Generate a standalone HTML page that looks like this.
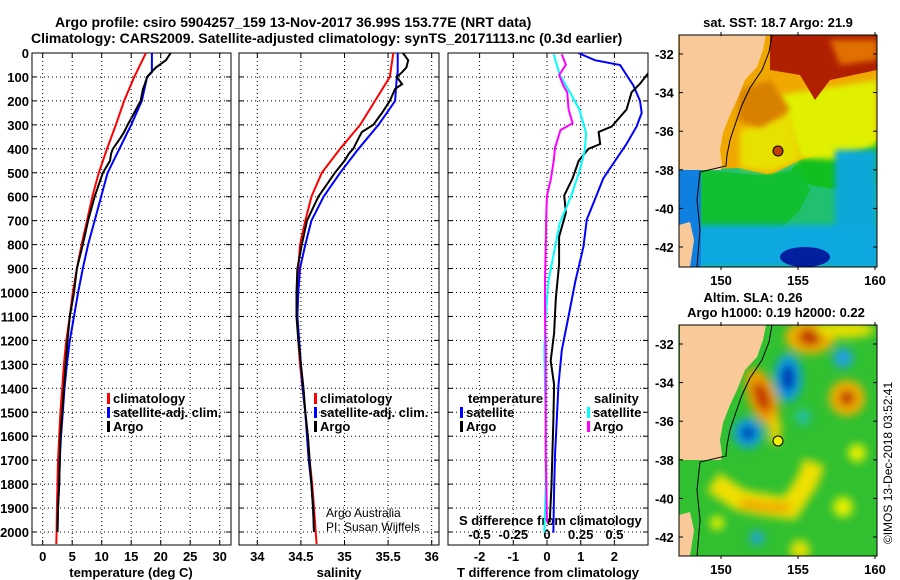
<!DOCTYPE html>
<html><head><meta charset="utf-8">
<style>
html,body{margin:0;padding:0;background:#fff;}
svg{display:block;font-family:"Liberation Sans",sans-serif;font-weight:bold;}
text{font-size:13px;fill:#000;}
</style></head>
<body>
<svg id="c" width="900" height="580" viewBox="0 0 900 580">
<defs>
<filter id="bl" x="-50%" y="-50%" width="200%" height="200%"><feGaussianBlur stdDeviation="4.5"/></filter>
<filter id="bl2" x="-50%" y="-50%" width="200%" height="200%"><feGaussianBlur stdDeviation="3"/></filter>
<clipPath id="m1"><rect x="679" y="35" width="198" height="232"/></clipPath>
<clipPath id="m2"><rect x="679" y="325" width="198" height="231"/></clipPath>
<clipPath id="p1"><rect x="32" y="53" width="199" height="492"/></clipPath>
<clipPath id="p2"><rect x="239" y="53" width="200" height="492"/></clipPath>
<clipPath id="p3"><rect x="448" y="53" width="200" height="492"/></clipPath>
</defs>
<text x="55" y="27" style="font-size:14px">Argo profile: csiro 5904257_159 13-Nov-2017 36.99S 153.77E (NRT data)</text>
<text x="31" y="43" style="font-size:14px">Climatology: CARS2009. Satellite-adjusted climatology: synTS_20171113.nc (0.3d earlier)</text>

<!-- SST map -->
<g clip-path="url(#m1)">
<rect x="679" y="35" width="198" height="232" fill="#f0a800"/>
<polygon points="680,170 740,168 770,175 800,160 877,140 877,267 679,267" fill="#20c070"/>
<polygon points="800,160 877,140 877,185 840,190 810,185 790,172" fill="#10c020"/>
<polygon points="700,170 760,175 800,170 810,190 800,210 780,230 700,240" fill="#10c030"/>
<polygon points="780,95 877,80 877,145 840,160 800,158 790,130" fill="#e0f000" filter="url(#bl2)"/>
<polygon points="740,130 790,115 800,160 770,172 740,168" fill="#e8e000" filter="url(#bl2)"/>
<polygon points="740,90 770,80 790,110 760,128 738,120" fill="#d88000" filter="url(#bl2)"/>
<polygon points="770,35 877,35 877,70 830,80 815,100 800,75 770,70" fill="#b02000"/>
<polygon points="830,40 877,40 877,60 840,65" fill="#e07000" filter="url(#bl2)"/>
<rect x="835" y="150" width="42" height="117" fill="#10a8d8" filter="url(#bl2)"/>
<rect x="679" y="225" width="198" height="42" fill="#10a8e0" filter="url(#bl2)"/>
<ellipse cx="805" cy="257" rx="25" ry="10" fill="#0020a0"/>
<rect x="679" y="170" width="22" height="97" fill="#1080e0"/>
<polygon points="766,35 763,50 757,67 745,80 737,100 730,115 723,133 720,150 722,165 721,170 680,170 680,35" fill="#f9c99a"/>
<polygon points="679,225 690,222 694,240 690,267 679,267" fill="#f9c99a"/>
<polyline points="772,35 769,52 762,70 750,88 742,105 736,122 730,140 727,155 726,166 700,172 697,200 700,230 697,267" fill="none" stroke="#000" stroke-width="1"/>
</g>
<rect x="679" y="35" width="198" height="232" fill="none" stroke="#000"/>
<circle cx="778" cy="151" r="5" fill="#c04000" stroke="#000"/>
<text x="778" y="27" text-anchor="middle">sat. SST: 18.7 Argo: 21.9</text>

<!-- SLA map -->
<g clip-path="url(#m2)">
<rect x="679" y="325" width="198" height="231" fill="#30c030"/>
<g filter="url(#bl)">
<ellipse cx="810" cy="337" rx="25" ry="17" fill="#f0b000"/>
<ellipse cx="810" cy="337" rx="12" ry="9" fill="#c03000"/>
<ellipse cx="845" cy="330" rx="30" ry="8" fill="#e8e000"/>
<ellipse cx="762" cy="397" rx="14" ry="30" fill="#f0a000" transform="rotate(-20 762 397)"/>
<ellipse cx="762" cy="397" rx="7" ry="16" fill="#c02800" transform="rotate(-20 762 397)"/>
<ellipse cx="775" cy="430" rx="6" ry="15" fill="#f0d000"/>
<ellipse cx="788" cy="378" rx="14" ry="24" fill="#10a0e0"/>
<ellipse cx="788" cy="378" rx="7" ry="14" fill="#0030b0"/>
<circle cx="748" cy="433" r="15" fill="#10a0e0"/>
<circle cx="748" cy="433" r="7" fill="#0030b0"/>
<circle cx="843" cy="358" r="10" fill="#20a0e0"/>
<circle cx="847" cy="398" r="18" fill="#f0b000"/>
<circle cx="847" cy="398" r="8" fill="#c03000"/>
<polyline points="713,482 740,500 765,505 790,508 808,480 814,462" fill="none" stroke="#f0e000" stroke-width="22"/>
<polyline points="740,503 765,507 790,508" fill="none" stroke="#f0a000" stroke-width="9"/>
<circle cx="857" cy="453" r="9" fill="#e8f000"/>
<circle cx="843" cy="507" r="10" fill="#e8f000"/>
<circle cx="717" cy="523" r="7" fill="#e8f000"/>
<circle cx="803" cy="417" r="8" fill="#20c0a0"/>
<circle cx="757" cy="538" r="7" fill="#20a0e0"/>
<circle cx="800" cy="550" r="10" fill="#e0e000"/>
</g>
<polygon points="766,325 763,340 757,357 745,370 737,390 730,405 723,423 720,440 722,455 721,460 680,460 680,325" fill="#f9c99a"/>
<polygon points="679,515 690,512 694,530 690,556 679,556" fill="#f9c99a"/>
<polyline points="772,325 769,342 762,360 750,378 742,395 736,412 730,430 727,445 726,456 700,462 697,490 700,520 697,556" fill="none" stroke="#000" stroke-width="1"/>
</g>
<rect x="679" y="325" width="198" height="231" fill="none" stroke="#000"/>
<circle cx="778" cy="441" r="5" fill="#f0f000" stroke="#000"/>
<text x="753" y="302" text-anchor="middle">Altim. SLA: 0.26</text>
<text x="776" y="317" text-anchor="middle">Argo h1000: 0.19 h2000: 0.22</text>
<text x="0" y="0" transform="translate(892,463) rotate(-90)" text-anchor="middle" style="font-weight:normal;font-size:12px">©IMOS 13-Dec-2018 03:52:41</text>

<g id="plots"></g>
</svg>
<script>
// ---------- data ----------
const depthTicks=[0,100,200,300,400,500,600,700,800,900,1000,1100,1200,1300,1400,1500,1600,1700,1800,1900,2000];
const tempTicks=[0,5,10,15,20,25,30];
const salTicks=[34,34.5,35,35.5,36];
const salTickLabels=["34","34.5","35","35.5","36"];
const tdTicks=[-2,-1,0,1,2];
const sdTicks=[-0.5,-0.25,0,0.25,0.5];
const sdTickLabels=["-0.5","-0.25","0","0.25","0.5"];
const latTicks=[-32,-34,-36,-38,-40,-42];
const lonTicks=[150,155,160];

const climDepth=[0,100,200,300,400,500,600,700,800,900,1000,1100,1200,1300,1400,1500,1600,1700,1800,1900,2000,2050];
const climTemp=[17.5,15.5,13.8,12.4,10.9,9.5,8.4,7.5,6.6,5.8,5.1,4.6,4.0,3.6,3.3,3.0,2.8,2.6,2.5,2.4,2.35,2.3];
const climSal=[35.56,35.52,35.35,35.18,34.95,34.74,34.62,34.55,34.49,34.47,34.46,34.46,34.47,34.49,34.52,34.55,34.58,34.60,34.63,34.65,34.67,34.68];
const satDepth=[0,80,100,200,300,400,500,600,700,800,900,1000,1100,1200,1300,1400,1500,1600,1700,1800,1900,2000];
const satTemp=[18.5,18.5,17.7,16.8,15.0,13.0,11.0,9.9,8.8,7.7,6.8,6.0,5.3,4.6,4.1,3.7,3.4,3.1,2.9,2.8,2.6,2.5];
const satSal=[35.61,35.61,35.60,35.58,35.39,35.16,34.95,34.76,34.62,34.55,34.49,34.47,34.46,34.48,34.50,34.52,34.55,34.57,34.59,34.62,34.64,34.65];
const argoDepth=[0,30,60,80,100,130,150,200,250,300,330,350,400,420,450,500,600,700,800,900,1000,1100,1200,1300,1400,1500,1600,1700,1800,1900,2000];
const argoTemp=[21.7,20.9,19.2,18.4,17.7,17.3,17.0,16.6,15.5,14.4,13.8,13.3,11.9,11.6,11.4,10.2,8.8,7.7,6.8,5.8,5.3,4.6,4.2,3.9,3.6,3.3,3.0,2.9,2.8,2.6,2.5];
const argoSal=[35.67,35.73,35.71,35.66,35.60,35.66,35.58,35.52,35.43,35.33,35.20,35.17,35.10,35.05,35.00,34.89,34.70,34.57,34.51,34.46,34.45,34.45,34.47,34.50,34.53,34.55,34.58,34.60,34.62,34.64,34.65];

const tdSatDepth=[0,30,50,70,92,135,200,250,307,380,450,523,595,695,810,954,1098,1241,1385,1529,1672,1816,2003];
const tdSat=[0.93,1.42,2.17,2.26,2.36,2.56,2.76,2.81,2.66,2.36,2.02,1.67,1.47,1.18,1.08,0.84,0.64,0.44,0.34,0.29,0.24,0.21,0.19];
const tdArgoDepth=[60,85,128,164,236,307,330,380,400,450,523,595,667,767,882,1026,1170,1285,1385,1529,1672,1816,1960];
const tdArgo=[3.1,3.0,2.76,2.51,2.36,1.92,1.53,1.58,1.23,0.94,0.76,0.51,0.56,0.36,0.36,0.26,0.21,0.11,0.21,0.19,0.16,0.13,0.08];
const sdSatDepth=[6,92,164,236,336,408,494,595,710,810,954,1098,1241,1529,1816,2003];
const sdSat=[0.05,0.095,0.17,0.24,0.29,0.28,0.24,0.18,0.095,0.06,0.01,-0.01,-0.02,-0.01,-0.01,-0.02];
const sdArgoDepth=[6,49,92,135,164,236,293,322,394,450,523,595,667,810,954,1098,1241,1385,1672,1960];
const sdArgo=[0.11,0.14,0.09,0.12,0.15,0.16,0.19,0.10,0.06,0.05,0.03,0.0,-0.005,-0.01,-0.015,-0.015,-0.01,-0.01,-0.01,0.0];

// ---------- axes ----------
const TOP=53, BOT=545;
const Y=d=>TOP+d*0.2395;
const X1=t=>42.7+t*5.9;
const X2=s=>257.3+(s-34)*87.2;
const X3=t=>547+t*33.7;
const XS=s=>547+s*134.8;
const LAT1=l=>54+(-32-l)*19.3;
const LAT2=l=>344+(-32-l)*19.3;
const LON=l=>721+(l-150)*15.4;

const NS='http://www.w3.org/2000/svg';
const root=document.getElementById('plots');
function mk(tag,attrs,parent){const e=document.createElementNS(NS,tag);for(const k in attrs)e.setAttribute(k,attrs[k]);(parent||root).appendChild(e);return e;}
function txt(x,y,s,anchor,parent){const e=mk('text',{x:x,y:y,'text-anchor':anchor||'start'},parent);e.textContent=s;return e;}

const panels=[{x:32,w:199,clip:'p1',name:'temperature'},{x:239,w:200,clip:'p2',name:'salinity'},{x:448,w:200,clip:'p3',name:'difference'}];
const vticks=[tempTicks.map(X1),salTicks.map(X2),tdTicks.map(X3)];
panels.forEach((p,i)=>{
  const g=mk('g',{});
  
  
  depthTicks.forEach(d=>{
    const l=mk('line',{x1:p.x,x2:p.x+p.w,y1:Y(d),y2:Y(d),stroke:'#000','stroke-dasharray':'1,3','stroke-width':1},g);
    
    
    mk('line',{x1:p.x,x2:p.x+5,y1:Y(d),y2:Y(d),stroke:'#000'},g);
    mk('line',{x1:p.x+p.w-5,x2:p.x+p.w,y1:Y(d),y2:Y(d),stroke:'#000'},g);
  });
  vticks[i].forEach(x=>{
    const l=mk('line',{x1:x,x2:x,y1:TOP,y2:BOT,stroke:'#000','stroke-dasharray':'1,3'},g);
    
    
    mk('line',{x1:x,x2:x,y1:BOT,y2:BOT-5,stroke:'#000'},g);
    mk('line',{x1:x,x2:x,y1:TOP,y2:TOP+5,stroke:'#000'},g);
  });
  const r=mk('rect',{x:p.x,y:TOP,width:p.w,height:BOT-TOP,fill:'none',stroke:'#000'},g);
  
  
});
depthTicks.forEach(d=>{const t=txt(29,Y(d)+5,String(d),'end');
  
  });
tempTicks.forEach(v=>{const t=txt(X1(v),561,String(v),'middle');
  
  });
salTicks.forEach((v,i)=>{const t=txt(X2(v),561,salTickLabels[i],'middle');
  
  });
tdTicks.forEach(v=>{const t=txt(X3(v),561,String(v),'middle');
  
  });
sdTicks.forEach((v,i)=>{const t=txt(XS(v),539,sdTickLabels[i],'middle');
  
  });
let t;
t=txt(131,577,'temperature (deg C)','middle');


t=txt(339,577,'salinity','middle');


t=txt(548,577,'T difference from climatology','middle');


t=txt(459,525,'S difference from climatology','start');



function line(xs,ds,fx,color,clip,name){
  const pts=xs.map((v,i)=>fx(v).toFixed(1)+','+Y(ds[i]).toFixed(1)).join(' ');
  const g=mk('g',{'clip-path':'url(#'+clip+')'});
  const l=mk('polyline',{points:pts,fill:'none',stroke:color,'stroke-width':2},g);
  
  
}
line(climTemp,climDepth,X1,'#ff0000','p1','temp-climatology-line');
line(satTemp,satDepth,X1,'#0000ff','p1','temp-satellite-line');
line(argoTemp,argoDepth,X1,'#000','p1','temp-argo-line');
line(climSal,climDepth,X2,'#ff0000','p2','sal-climatology-line');
line(satSal,satDepth,X2,'#0000ff','p2','sal-satellite-line');
line(argoSal,argoDepth,X2,'#000','p2','sal-argo-line');
line(tdSat,tdSatDepth,X3,'#0000ff','p3','t-diff-satellite-line');
line(tdArgo,tdArgoDepth,X3,'#000','p3','t-diff-argo-line');
line(sdSat,sdSatDepth,XS,'#00ffff','p3','s-diff-satellite-line');
line(sdArgo,sdArgoDepth,XS,'#ff00ff','p3','s-diff-argo-line');

// legends
function leg(x,y,color,label,name){
  const g=mk('g',{});
  
  
  if(color) mk('rect',{x:x,y:y-10,width:3,height:11,fill:color},g);
  txt(x+6,y,label,'start',g);
}
leg(107,403,'#ff0000','climatology','legend-climatology');
leg(107,417,'#0000ff','satellite-adj. clim.','legend-satellite-adj');
leg(107,431,'#000','Argo','legend-argo');
leg(314,403,'#ff0000','climatology','legend-climatology-2');
leg(314,417,'#0000ff','satellite-adj. clim.','legend-satellite-adj-2');
leg(314,431,'#000','Argo','legend-argo-2');
leg(462,403,null,'temperature','legend-temperature-heading');
leg(460,417,'#0000ff','satellite','legend-t-satellite');
leg(460,431,'#000','Argo','legend-t-argo');
leg(588,403,null,'salinity','legend-salinity-heading');
leg(587,417,'#00ffff','satellite','legend-s-satellite');
leg(587,431,'#ff00ff','Argo','legend-s-argo');
t=txt(326,517,'Argo Australia','start');t.setAttribute('style','font-weight:normal;font-size:12px');


t=txt(326,531,'PI: Susan Wijffels','start');t.setAttribute('style','font-weight:normal;font-size:12px');



// map axes
[LAT1,LAT2].forEach((F,mi)=>{
  latTicks.forEach(l=>{
    const y=F(l);
    const e=txt(655,y+5,String(l),'start');
    
    
    mk('line',{x1:679,x2:683,y1:y,y2:y,stroke:'#000'});
    mk('line',{x1:873,x2:877,y1:y,y2:y,stroke:'#000'});
  });
  const top=mi?325:35, bot=mi?556:267;
  lonTicks.forEach(l=>{
    const x=LON(l);
    const e=txt(x,bot+18,String(l),'middle');
    
    
    mk('line',{x1:x,x2:x,y1:top-3,y2:top+1,stroke:'#000'});
    mk('line',{x1:x,x2:x,y1:bot,y2:bot+3,stroke:'#000'});
  });
});
</script>
</body></html>
